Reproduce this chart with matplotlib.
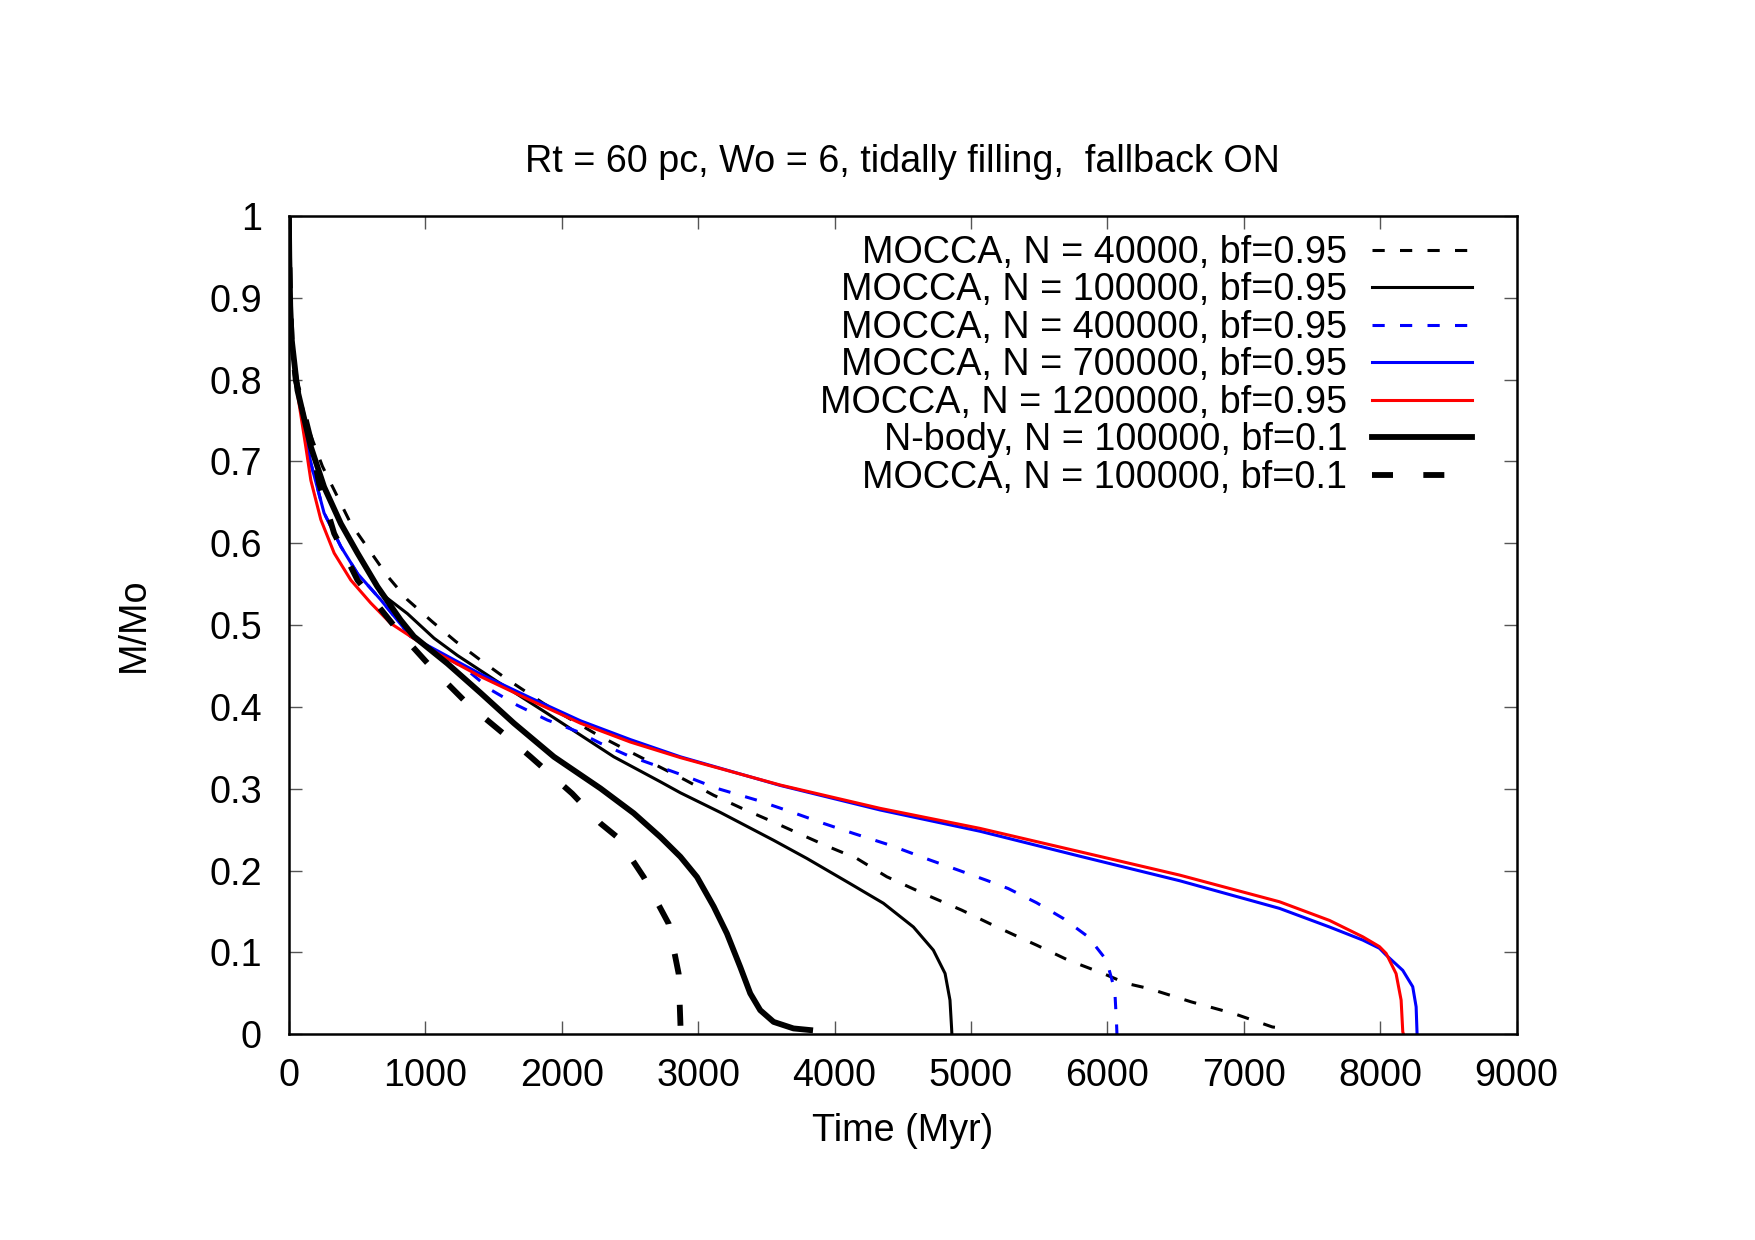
import matplotlib.pyplot as plt
from matplotlib.ticker import FuncFormatter, MultipleLocator

plt.rcParams["font.family"] = ["Liberation Sans", "DejaVu Sans"]

# MOCCA, N = 40000, bf=0.95
t_40k = [0, 5, 15, 30, 60, 120, 246, 454, 722, 869, 1052, 1223, 1406, 1589, 1869,
         2260, 2479, 2906, 3114, 3321, 3528, 3736, 3943, 4163, 4383, 4663, 4932, 5139,
         5346, 5481, 5712, 5968, 6140, 6303, 6616, 6928, 7209, 7303]
m_40k = [1.0, 0.93, 0.88, 0.84, 0.80, 0.75, 0.694, 0.624, 0.56, 0.531, 0.504, 0.48,
         0.457, 0.435, 0.404, 0.366, 0.347, 0.3106, 0.292, 0.276, 0.261, 0.2454, 0.230,
         0.2148, 0.1924, 0.171, 0.1516, 0.135, 0.119, 0.1088, 0.0905, 0.0742, 0.062,
         0.0558, 0.0394, 0.0251, 0.0088, 0.0068]

# MOCCA, N = 100000, bf=0.95
t_100k = [0, 5, 15, 30, 63, 161, 258, 381, 503, 673, 869, 1064, 1235, 1528, 1894,
          2382, 2723, 2870, 3163, 3553, 3797, 4114, 4358, 4578, 4724, 4810, 4846, 4858,
          4860]
m_100k = [1.0, 0.93, 0.88, 0.84, 0.787, 0.718, 0.669, 0.624, 0.588, 0.539, 0.514,
          0.484, 0.463, 0.431, 0.392, 0.339, 0.3085, 0.295, 0.271, 0.237, 0.2148, 0.184,
          0.16, 0.131, 0.1027, 0.0742, 0.0416, 0.007, 0.0]

# MOCCA, N = 400000, bf=0.95
t_400k = [0, 5, 15, 30, 63, 161, 258, 381, 503, 673, 893, 1040, 1300, 1479, 1674,
          1894, 2113, 2284, 2479, 2918, 3138, 3431, 3711, 3919, 4138, 4407, 4700, 4907,
          5115, 5273, 5481, 5676, 5859, 5993, 6054, 6067, 6070]
m_400k = [1.0, 0.93, 0.87, 0.83, 0.79, 0.698, 0.637, 0.596, 0.563, 0.531, 0.486,
          0.472, 0.446, 0.421, 0.402, 0.384, 0.370, 0.3555, 0.341, 0.3147, 0.3004, 0.286,
          0.270, 0.2576, 0.2454, 0.231, 0.2128, 0.2005, 0.188, 0.178, 0.1606, 0.1415,
          0.119, 0.0905, 0.0538, 0.013, 0.0]

# MOCCA, N = 700000, bf=0.95
t_700k = [0, 5, 15, 30, 63, 161, 258, 381, 503, 673, 893, 1040, 1406, 1772, 2138,
          2504, 2870, 3602, 4334, 5066, 5798, 6530, 7262, 7628, 7872, 7994, 8043, 8165,
          8238, 8263, 8270]
m_700k = [1.0, 0.93, 0.87, 0.83, 0.79, 0.698, 0.637, 0.596, 0.563, 0.531, 0.486,
          0.473, 0.44, 0.411, 0.383, 0.36, 0.339, 0.304, 0.274, 0.248, 0.2175, 0.1875,
          0.1537, 0.131, 0.115, 0.105, 0.0967, 0.078, 0.058, 0.0334, 0.0]

# MOCCA, N = 1200000, bf=0.95
t_1200k = [0, 5, 15, 30, 63, 124, 161, 234, 332, 454, 600, 747, 1040, 1406, 1772,
           2138, 2504, 2870, 3602, 4334, 5066, 5798, 6530, 7262, 7628, 7872, 7994, 8043,
           8116, 8153, 8165, 8170]
m_1200k = [1.0, 0.93, 0.87, 0.83, 0.783, 0.718, 0.677, 0.629, 0.588, 0.555, 0.527,
           0.502, 0.47, 0.437, 0.408, 0.380, 0.357, 0.338, 0.3045, 0.276, 0.2515, 0.223,
           0.1944, 0.1618, 0.139, 0.119, 0.107, 0.0987, 0.074, 0.0416, 0.003, 0.0]

# N-body, N = 100000, bf=0.1
t_nbody = [0, 3, 10, 20, 63, 161, 258, 381, 503, 649, 820, 917, 1162, 1406, 1650,
           1943, 2284, 2528, 2723, 2870, 2992, 3114, 3211, 3309, 3382, 3455, 3553, 3699,
           3821]
m_nbody = [1.0, 0.95, 0.89, 0.85, 0.787, 0.718, 0.669, 0.624, 0.588, 0.547, 0.506,
           0.486, 0.453, 0.417, 0.380, 0.339, 0.3004, 0.270, 0.241, 0.2168, 0.192, 0.156,
           0.123, 0.082, 0.0498, 0.0293, 0.015, 0.007, 0.005]

# MOCCA, N = 100000, bf=0.1
t_bf01 = [0, 3, 10, 20, 50, 100, 161, 222, 332, 503, 796, 1040, 1308, 1601, 1772,
          2077, 2284, 2406, 2601, 2784, 2857, 2870, 2872]
m_bf01 = [1.0, 0.95, 0.89, 0.85, 0.80, 0.767, 0.726, 0.673, 0.612, 0.555, 0.494,
          0.449, 0.404, 0.3635, 0.339, 0.294, 0.2576, 0.241, 0.192, 0.135, 0.074, 0.013,
          0.0]

fs = 27.2
fig = plt.figure(figsize=(17.55, 12.4), dpi=100)
ax = fig.add_axes([0.1646, 0.166, 0.6996, 0.6598])

thin = 2.2
thick = 4.2
ax.plot(t_40k, m_40k, color="black", lw=thin, ls=(0, (4, 5)),
        label="MOCCA, N = 40000, bf=0.95")
ax.plot(t_100k, m_100k, color="black", lw=thin, label="MOCCA, N = 100000, bf=0.95")
ax.plot(t_400k, m_400k, color="#0000ff", lw=thin, ls=(0, (4, 5)),
        label="MOCCA, N = 400000, bf=0.95")
ax.plot(t_700k, m_700k, color="#0000ff", lw=thin, label="MOCCA, N = 700000, bf=0.95")
ax.plot(t_1200k, m_1200k, color="#ff0000", lw=thin, label="MOCCA, N = 1200000, bf=0.95")
ax.plot(t_nbody, m_nbody, color="black", lw=thick, label="N-body, N = 100000, bf=0.1")
ax.plot(t_bf01, m_bf01, color="black", lw=thick, ls=(0, (3.6, 5.2)),
        label="MOCCA, N = 100000, bf=0.1")

ax.set_xlim(0, 9000)
ax.set_ylim(0, 1)
ax.xaxis.set_major_locator(MultipleLocator(1000))
ax.yaxis.set_major_locator(MultipleLocator(0.1))
ax.yaxis.set_major_formatter(FuncFormatter(lambda v, p: f"{v:g}"))
ax.xaxis.set_major_formatter(FuncFormatter(lambda v, p: f"{v:g}"))
ax.tick_params(direction="in", length=9.5, width=1.0, color="#555555",
               top=True, right=True, labelsize=fs)
ax.tick_params(axis="x", pad=17)
ax.tick_params(axis="y", pad=19.5)
for s in ax.spines.values():
    s.set_linewidth(1.8)

ax.set_title("Rt = 60 pc, Wo = 6, tidally filling,  fallback ON", fontsize=fs, pad=31.5)
ax.set_xlabel("Time (Myr)", fontsize=fs, labelpad=14)
ax.set_ylabel("M/Mo", fontsize=fs, labelpad=41)

ax.legend(loc="upper right", bbox_to_anchor=(0.9634, 0.9768), frameon=False,
          markerfirst=False, fontsize=fs, handlelength=2.65, handletextpad=0.64,
          labelspacing=0.039, borderpad=0, borderaxespad=0)

fig.savefig("out.png", dpi=100)
plt.close(fig)
